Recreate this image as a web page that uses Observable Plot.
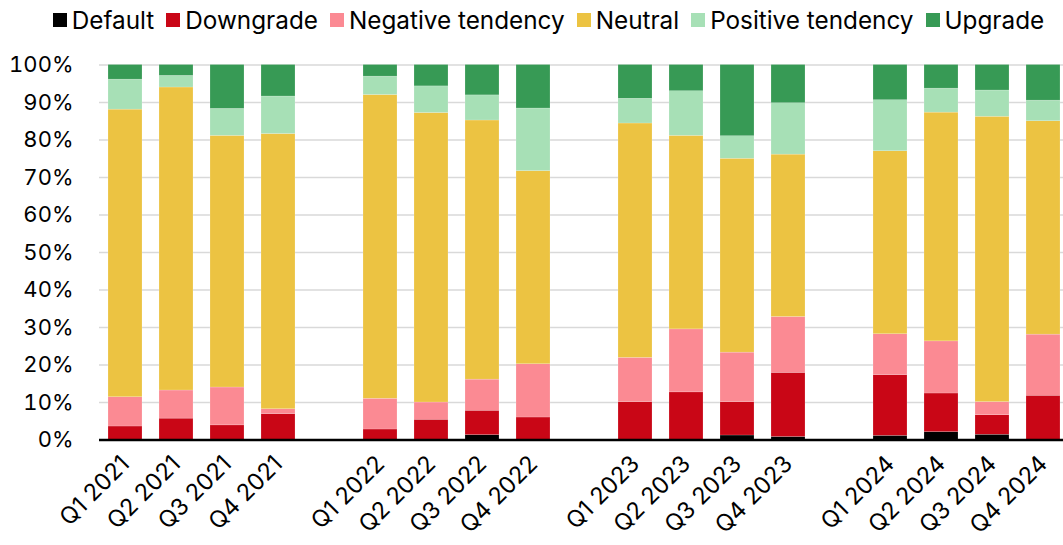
<!DOCTYPE html>
<html><head><meta charset="utf-8">
<script src="https://cdn.jsdelivr.net/npm/d3@7"></script>
<script src="https://cdn.jsdelivr.net/npm/@observablehq/plot@0.6"></script>
<style>
body{margin:0;background:#fff;font-family:Inter,sans-serif;}
#legend{height:40px;display:flex;justify-content:center;align-items:center;gap:12px;font-size:24.3px;color:#000;padding-left:34px;box-sizing:border-box;width:1063px;}
.item{display:flex;align-items:center;white-space:nowrap;}
.sw{width:14px;height:14px;margin-right:5px;display:inline-block;}
</style></head><body>
<div id="legend"></div><div id="chart"></div>
<script>
const quarters = ["Q1 2021","Q2 2021","Q3 2021","Q4 2021","Q1 2022","Q2 2022","Q3 2022","Q4 2022","Q1 2023","Q2 2023","Q3 2023","Q4 2023","Q1 2024","Q2 2024","Q3 2024","Q4 2024"];
const slots = ["Q1 2021","Q2 2021","Q3 2021","Q4 2021","gap1","Q1 2022","Q2 2022","Q3 2022","Q4 2022","gap2","Q1 2023","Q2 2023","Q3 2023","Q4 2023","gap3","Q1 2024","Q2 2024","Q3 2024","Q4 2024"];
const seriesNames = ["Default","Downgrade","Negative tendency","Neutral","Positive tendency","Upgrade"];
const seriesColors = ["#000000","#c90616","#fb8a93","#ecc342","#a7e0b6","#379a55"];
const defaultVals   = [0,0,0,0, 0,0,1.3,0, 0,0,1.2,0.8, 1.1,2.1,1.4,0];
const downgradeVals = [3.6,5.7,3.9,6.9, 2.8,5.4,6.5,6.0, 10.1,12.7,8.9,17.1, 16.2,10.3,5.2,11.8];
const negativeVals  = [7.8,7.5,10.1,1.3, 8.2,4.6,8.3,14.2, 11.8,16.8,13.2,14.9, 10.9,13.9,3.5,16.3];
const neutralVals   = [76.7,80.8,67.1,73.4, 81.0,77.2,69.1,51.5, 62.5,51.6,51.7,43.3, 48.8,61.0,76.1,56.9];
const positiveVals  = [8.0,3.1,7.2,10.0, 4.9,7.1,6.7,16.7, 6.6,11.9,6.0,13.7, 13.6,6.4,7.0,5.5];
const upgradeVals   = [3.9,2.9,11.7,8.4, 3.1,5.7,8.1,11.6, 9.0,7.0,19.0,10.2, 9.4,6.3,6.8,9.5];
const yTicks = [0,10,20,30,40,50,60,70,80,90,100];

const seriesData = [defaultVals, downgradeVals, negativeVals, neutralVals, positiveVals, upgradeVals];
const rows = [];
seriesNames.forEach((s, i) => quarters.forEach((q, j) => rows.push({quarter: q, series: s, value: seriesData[i][j]})));

const legend = document.getElementById("legend");
seriesNames.forEach((s, i) => {
  const it = document.createElement("div"); it.className = "item";
  const sw = document.createElement("span"); sw.className = "sw"; sw.style.background = seriesColors[i];
  const tx = document.createElement("span"); tx.textContent = s;
  it.appendChild(sw); it.appendChild(tx); legend.appendChild(it);
});

const chart = Plot.plot({
  width: 1063, height: 505,
  marginTop: 24.5, marginBottom: 105.5, marginLeft: 99, marginRight: 0,
  style: {fontFamily: "Inter, sans-serif", fontSize: "22px", color: "#000", background: "#fff"},
  x: {domain: slots, range: [99, 1069], paddingInner: 0.335, paddingOuter: 0.157, label: null},
  y: {domain: [0, 100], label: null},
  color: {domain: seriesNames, range: seriesColors},
  marks: [
    Plot.gridY(yTicks, {stroke: "#d9d9d9", strokeOpacity: 1, strokeWidth: 1.5}),
    Plot.barY(rows, {x: "quarter", y: "value", fill: "series", z: "series", order: seriesNames, stroke: "#ffffff", strokeOpacity: 0.35, strokeWidth: 0.5}),
    Plot.ruleY([0], {stroke: "#000", strokeWidth: 2.5}),
    Plot.axisY(yTicks, {tickSize: 0, tickPadding: 26, tickFormat: d => d + "%", fontSize: 22, fill: "#000"}),
    Plot.axisX(quarters, {tickSize: 0, tickPadding: 20, tickRotate: -45, fontSize: 23.5, fill: "#000", label: null})
  ]
});
document.getElementById("chart").appendChild(chart);
</script>
</body></html>
